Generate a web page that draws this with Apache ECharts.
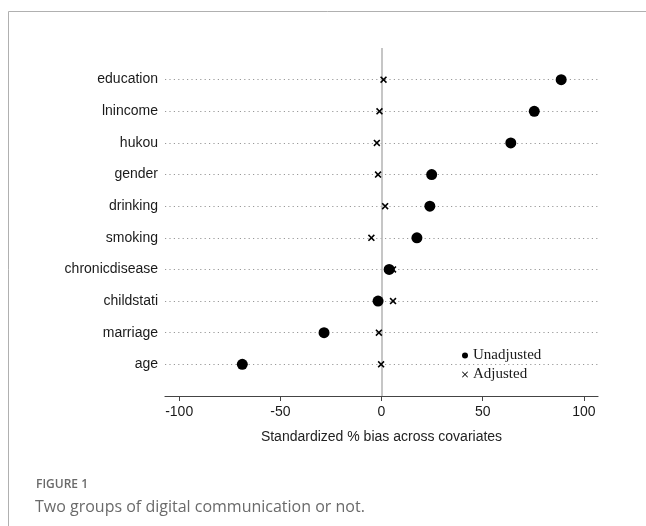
<!DOCTYPE html>
<html>
<head>
<meta charset="utf-8">
<script src="https://cdn.jsdelivr.net/npm/echarts@6/dist/echarts.min.js"></script>
<style>
html,body{margin:0;padding:0;background:#fff;}
#chart{width:646px;height:526px;}
</style>
</head>
<body>
<div id="chart"></div>
<script>
// categories top to bottom
var categories = ['education','lnincome','hukou','gender','drinking','smoking','chronicdisease','childstati','marriage','age'];
var unadjusted = [88.8, 75.5, 63.9, 24.8, 23.9, 17.5, 3.8, -1.7, -28.4, -68.8];
var adjusted   = [1.0, -1.0, -2.3, -1.7, 1.8, -5.0, 5.7, 5.7, -1.3, -0.2];
var xTicks = [-100, -50, 0, 50, 100];
var xTitle = 'Standardized % bias across covariates';
var captionLabel = 'FIGURE 1';
var captionText = 'Two groups of digital communication or not.';

var crossPath = 'path://M0,1.6L1.6,0L5,3.4L8.4,0L10,1.6L6.6,5L10,8.4L8.4,10L5,6.6L1.6,10L0,8.4L3.4,5Z';
var crossThin = 'path://M1,0L5,4L9,0L10,1L6,5L10,9L9,10L5,6L1,10L0,9L4,5L0,1Z';
var axisCats = [''].concat(categories.slice().reverse()).concat(['']);

function pairs(vals){
  return vals.map(function(v,i){ return [v, categories[i]]; });
}

var chart = echarts.init(document.getElementById('chart'));
chart.setOption({
  animation:false,
  backgroundColor:'#fff',
  grid:{left:165, right:48, top:48, bottom:130, containLabel:false},
  xAxis:{
    type:'value', min:-107, max:107,
    name:xTitle, nameLocation:'middle', nameGap:34,
    nameTextStyle:{fontFamily:'Liberation Sans', fontSize:14, color:'#222'},
    axisLine:{show:true, lineStyle:{color:'#444', width:1.2}},
    axisTick:{show:true, length:5, customValues:xTicks, lineStyle:{color:'#444'}},
    axisLabel:{customValues:xTicks, margin:9, fontFamily:'Liberation Sans', fontSize:14, color:'#1a1a1a'},
    splitLine:{show:false}
  },
  yAxis:{
    type:'category', data:axisCats, boundaryGap:false,
    axisLine:{show:false}, axisTick:{show:false},
    axisLabel:{margin:7, fontFamily:'Liberation Sans', fontSize:14, color:'#1a1a1a'},
    splitLine:{show:true, interval:function(i){return i>0 && i<axisCats.length-1;},
      lineStyle:{color:'#999', width:1, type:[1.2,3.2]}}
  },
  legend:{
    orient:'vertical', left:457, top:343, itemWidth:6, itemHeight:6, itemGap:4,
    textStyle:{fontFamily:'Liberation Serif', fontSize:15, color:'#1a1a1a'},
    data:[{name:'Unadjusted', icon:'circle'},{name:'Adjusted', icon:crossThin}]
  },
  series:[
    {
      name:'Unadjusted', type:'scatter', symbol:'circle', symbolSize:11,
      itemStyle:{color:'#000', opacity:1}, data:pairs(unadjusted), z:3,
      markLine:{silent:true, symbol:'none', label:{show:false},
        lineStyle:{color:'#b8b8b8', width:1.6, type:'solid'},
        data:[{xAxis:0}], z:1}
    },
    {
      name:'Adjusted', type:'scatter', symbol:crossPath, symbolSize:7,
      itemStyle:{color:'#000', opacity:1}, data:pairs(adjusted), z:4
    }
  ],
  graphic:[
    {type:'rect', shape:{x:8.5, y:11.5, width:700, height:600}, style:{fill:'none', stroke:'#b0b0b0', lineWidth:1}, silent:true},
    {type:'text', left:36, top:479, style:{text:captionLabel, fontFamily:'Open Sans', fontSize:12, fontWeight:600, fill:'#6a6a6a'}},
    {type:'text', left:35, top:499, style:{text:captionText, fontFamily:'Open Sans', fontSize:16, fill:'#6a6a6a'}}
  ]
});
</script>
</body>
</html>
